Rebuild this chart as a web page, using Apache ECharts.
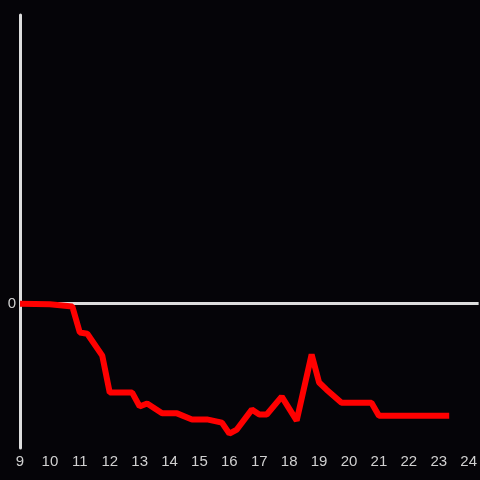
<!DOCTYPE html>
<html><head><meta charset="utf-8">
<script src="https://cdn.jsdelivr.net/npm/echarts@6/dist/echarts.min.js"></script>
<style>html,body{margin:0;padding:0;background:#050408;}#c{width:480px;height:480px;}</style>
</head><body><div id="c"></div>
<script>
const xHours = [9, 10, 10.75, 11, 11.25, 11.75, 12, 12.75, 13, 13.25, 13.75, 14.25, 14.75, 15.25, 15.75, 16, 16.25, 16.75, 17, 17.25, 17.75, 18.25, 18.75, 19, 19.25, 19.75, 20.75, 21, 23.35];
const yValues = [0, -0.2, -1, -10, -10.4, -18, -30.8, -30.8, -35.6, -34.6, -38, -38, -40.1, -40.1, -41.2, -45, -43.6, -36.7, -38.4, -38.4, -32.2, -40.5, -17.6, -27.3, -29.8, -34.3, -34.3, -38.8, -38.8];
const yTickLabels = ['0'];

const chart = echarts.init(document.getElementById('c'), null, {renderer: 'canvas'});
chart.setOption({
  backgroundColor: '#050408',
  animation: false,
  grid: {left: 20, right: 0, top: 15, bottom: 32, containLabel: false},
  xAxis: {
    type: 'value', min: 9, max: 24 + 1/3, interval: 1,
    axisLine: {show: false}, axisTick: {show: false}, splitLine: {show: false},
    axisLabel: {color: '#d0d0d0', fontSize: 15, margin: 6, showMaxLabel: false, fontFamily: 'Liberation Sans',
      formatter: v => String(v)}
  },
  yAxis: {
    type: 'value', min: -50, max: 100, interval: 50,
    axisLine: {show: true, onZero: false, lineStyle: {color: '#dddddd', width: 3}},
    axisTick: {show: false},
    axisLabel: {color: '#d0d0d0', fontSize: 15, margin: 4, fontFamily: 'Liberation Sans',
      formatter: v => (yTickLabels.indexOf(String(v)) >= 0 ? String(v) : '')},
    splitLine: {show: true, lineStyle: {color: ['rgba(0,0,0,0)', '#dddddd', 'rgba(0,0,0,0)', 'rgba(0,0,0,0)'], width: 3}}
  },
  series: [{
    type: 'line',
    data: xHours.map((x, i) => [x, yValues[i]]),
    showSymbol: false,
    lineStyle: {color: '#ff0000', width: 6},
    z: 5
  }]
});
</script></body></html>
